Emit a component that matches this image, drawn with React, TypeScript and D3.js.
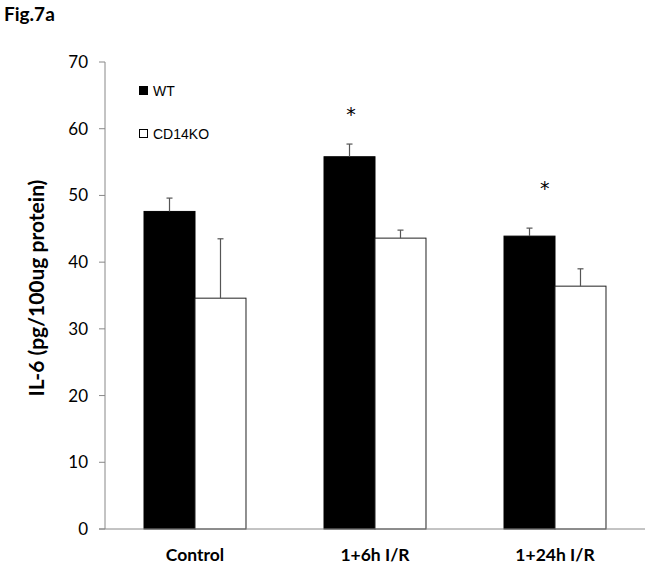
import React from "react";
import * as d3 from "d3";

const categories = ["Control", "1+6h I/R", "1+24h I/R"];
const series = ["WT", "CD14KO"];
const wtValues = [47.6, 55.8, 43.9];
const wtErrors = [2.0, 1.9, 1.2];
const koValues = [34.6, 43.6, 36.4];
const koErrors = [8.9, 1.2, 2.6];
const yTicks = [0, 10, 20, 30, 40, 50, 60, 70];
const stars = [
  { category: "1+6h I/R", value: 62.8, offset: 0.03 },
  { category: "1+24h I/R", value: 51.7, offset: 0.3 },
];

const W = 651;
const H = 567;
const left = 105;
const right = 645;
const top = 62;
const bottom = 529;
const font = "Lato, 'Open Sans', sans-serif";
const legendFont = "'Liberation Sans', Arial, sans-serif";

export default function App() {
  const x = d3.scaleBand<string>().domain(categories).range([left, right]).paddingInner(0).paddingOuter(0);
  const xs = d3.scaleBand<string>().domain(series).range([0, x.bandwidth()]).paddingInner(0).paddingOuter(0.765);
  const y = d3.scaleLinear().domain([0, 70]).range([bottom, top]);

  const data = series.map((s, si) => ({
    s,
    vals: si === 0 ? wtValues : koValues,
    errs: si === 0 ? wtErrors : koErrors,
  }));

  return (
    <svg width={W} height={H} style={{ position: "absolute", left: 0, top: 0, background: "#fff" }}>
      <text x={4} y={21} fontFamily={font} fontWeight="bold" fontSize={19} fill="#000">Fig.7a</text>
      {/* y axis */}
      <line x1={left} x2={left} y1={y(70)} y2={y(0)} stroke="#888" strokeWidth={1} />
      {yTicks.map((t) => (
        <g key={t}>
          <line x1={left - 6} x2={left} y1={y(t)} y2={y(t)} stroke="#888" />
          <text x={88} y={y(t)} dy="0.35em" textAnchor="end" fontFamily={font} fontSize={17} fill="#000">{t}</text>
        </g>
      ))}
      <text
        transform={`translate(44,288) rotate(-90)`}
        textAnchor="middle"
        fontFamily={font}
        fontWeight="bold"
        fontSize={21}
        fill="#000"
      >IL-6 (pg/100ug protein)</text>
      {/* bars */}
      {data.map((d, si) =>
        categories.map((c, ci) => {
          const bx = (x(c) as number) + (xs(d.s) as number);
          const bw = xs.bandwidth();
          const v = d.vals[ci];
          const e = d.errs[ci];
          const cx = bx + bw / 2;
          return (
            <g key={`${si}-${ci}`}>
              <rect
                x={bx}
                y={y(v)}
                width={bw}
                height={y(0) - y(v)}
                fill={si === 0 ? "#000" : "#fff"}
                stroke={si === 0 ? "#000" : "#222"}
                strokeWidth={1}
              />
              <line x1={cx} x2={cx} y1={y(v)} y2={y(v + e)} stroke="#555" strokeWidth={1.2} />
              <line x1={cx - 3} x2={cx + 3} y1={y(v + e)} y2={y(v + e)} stroke="#555" strokeWidth={1.2} />
            </g>
          );
        })
      )}
      {/* x axis */}
      <line x1={left - 6} x2={right} y1={y(0)} y2={y(0)} stroke="#888" strokeWidth={1} />
      {categories.map((c) => (
        <text key={c} x={(x(c) as number) + x.bandwidth() / 2} y={555} dy="0.35em" textAnchor="middle" fontFamily={font} fontWeight="bold" fontSize={17.5} fill="#000">{c}</text>
      ))}
      {/* stars */}
      {stars.map((s, i) => (
        <text
          key={i}
          x={(x(s.category) as number) + (xs("WT") as number) + xs.bandwidth() * (0.5 + s.offset)}
          y={y(s.value)}
          dy="0.6em"
          textAnchor="middle"
          fontFamily="'DejaVu Sans', sans-serif"
          fontSize={19}
          fill="#000"
        >*</text>
      ))}
      {/* legend */}
      {series.map((s, i) => (
        <g key={s} transform={`translate(139,${86 + i * 43})`}>
          <rect x={0.5} y={0.5} width={8} height={8} fill={i === 0 ? "#000" : "#fff"} stroke="#000" strokeWidth={1} />
          <text x={14} y={4.5} dy="0.36em" fontFamily={legendFont} fontSize={14} fill="#000">{s}</text>
        </g>
      ))}
    </svg>
  );
}
